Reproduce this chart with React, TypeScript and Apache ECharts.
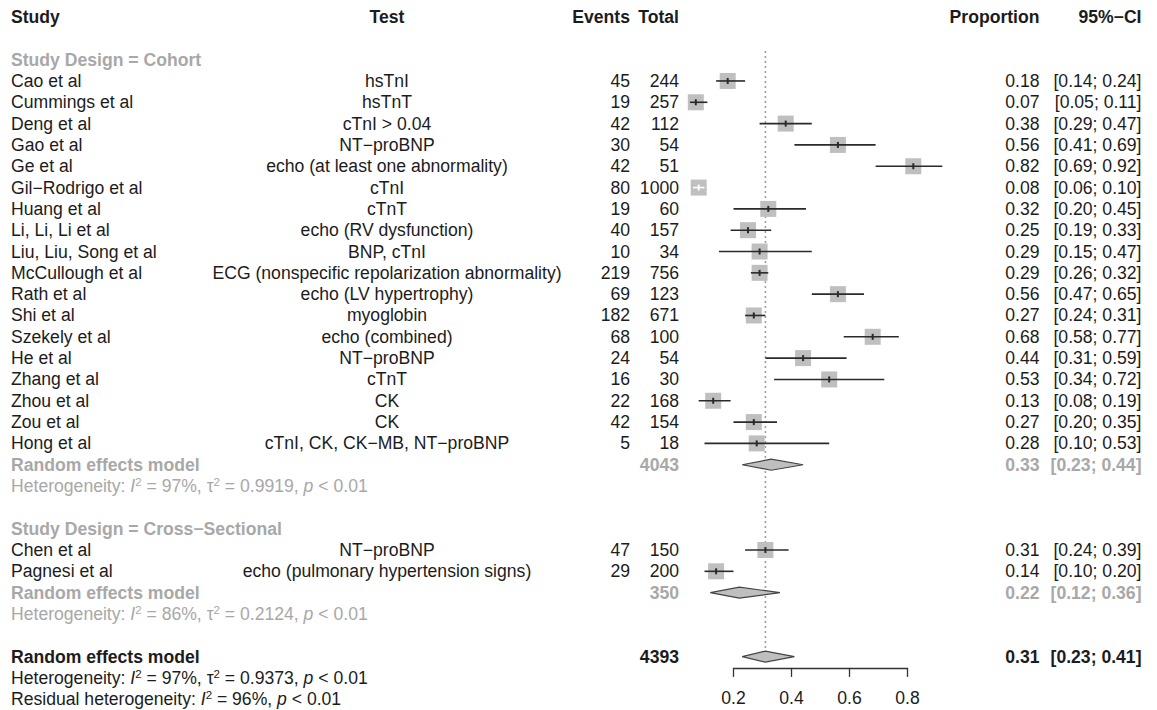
import React, { useEffect, useRef } from "react";
import * as echarts from "echarts";

// ---------------- data ----------------
const headers = ["Study", "Test", "Events", "Total", "Proportion", "95%−CI"];
const subgroupLabels = ["Study Design = Cohort", "Study Design = Cross−Sectional"];

const cohortStudies = [
  "Cao et al", "Cummings et al", "Deng et al", "Gao et al", "Ge et al", "Gil−Rodrigo et al",
  "Huang et al", "Li, Li, Li et al", "Liu, Liu, Song et al", "McCullough et al", "Rath et al",
  "Shi et al", "Szekely et al", "He et al", "Zhang et al", "Zhou et al", "Zou et al", "Hong et al",
];
const cohortTests = [
  "hsTnI", "hsTnT", "cTnI > 0.04", "NT−proBNP", "echo (at least one abnormality)", "cTnI",
  "cTnT", "echo (RV dysfunction)", "BNP, cTnI", "ECG (nonspecific repolarization abnormality)",
  "echo (LV hypertrophy)", "myoglobin", "echo (combined)", "NT−proBNP", "cTnT", "CK", "CK",
  "cTnI, CK, CK−MB, NT−proBNP",
];
const cohortEvents = [45, 19, 42, 30, 42, 80, 19, 40, 10, 219, 69, 182, 68, 24, 16, 22, 42, 5];
const cohortTotals = [244, 257, 112, 54, 51, 1000, 60, 157, 34, 756, 123, 671, 100, 54, 30, 168, 154, 18];
const cohortProp = [0.18, 0.07, 0.38, 0.56, 0.82, 0.08, 0.32, 0.25, 0.29, 0.29, 0.56, 0.27, 0.68, 0.44, 0.53, 0.13, 0.27, 0.28];
const cohortLower = [0.14, 0.05, 0.29, 0.41, 0.69, 0.06, 0.2, 0.19, 0.15, 0.26, 0.47, 0.24, 0.58, 0.31, 0.34, 0.08, 0.2, 0.1];
const cohortUpper = [0.24, 0.11, 0.47, 0.69, 0.92, 0.1, 0.45, 0.33, 0.47, 0.32, 0.65, 0.31, 0.77, 0.59, 0.72, 0.19, 0.35, 0.53];

const crossStudies = ["Chen et al", "Pagnesi et al"];
const crossTests = ["NT−proBNP", "echo (pulmonary hypertension signs)"];
const crossEvents = [47, 29];
const crossTotals = [150, 200];
const crossProp = [0.31, 0.14];
const crossLower = [0.24, 0.1];
const crossUpper = [0.39, 0.2];

// pooled: [cohort, cross-sectional, overall]
const pooledLabel = "Random effects model";
const pooledTotals = [4043, 350, 4393];
const pooledProp = [0.33, 0.22, 0.31];
const pooledLower = [0.23, 0.12, 0.23];
const pooledUpper = [0.44, 0.36, 0.41];
const pooledI2 = ["97%", "86%", "97%"];
const pooledTau2 = ["0.9919", "0.2124", "0.9373"];
const pooledP = ["0.01", "0.01", "0.01"];
const residualI2 = "96%";
const residualP = "0.01";

const xTicks = [0.2, 0.4, 0.6, 0.8];

// ---------------- layout ----------------
const W = 1157;
const H = 710;
const Y0 = 17; // centre of header row
const RH = 21.32; // row height
const NROWS = 32;
const AXIS_ROW = 30.53;
const PX_LEFT = 733.5; // pixel of first tick
const PX_RIGHT = 907.5; // pixel of last tick
const COL_STUDY = 11;
const COL_TEST = 387;
const COL_EVENTS = 630;
const COL_TOTAL = 679;
const COL_PROP = 1039.5;
const COL_CI = 1141.5;
const FS = 17.6;
const FONT = "'Liberation Sans', Arial, Helvetica, sans-serif";
const BLACK = "#1c1c1c";
const GRAY = "#a8a8a8";
const SQ = 16;

type Cell = {
  x: number;
  row: number;
  text: string;
  align: "left" | "center" | "right";
  color: string;
  bold?: boolean;
  rich?: any;
};

const fmt = (v: number) => v.toFixed(2);
const ciText = (l: number, h: number) => `[${fmt(l)}; ${fmt(h)}]`;

function richStyles(color: string) {
  const base = { fontSize: FS, fontFamily: FONT, fill: color, lineHeight: 20 };
  return {
    n: { ...base },
    i: { ...base, fontStyle: "italic" },
    s: { fontSize: 11.5, fontFamily: FONT, fill: color, lineHeight: 10, verticalAlign: "top" },
  };
}
const hetText = (i2: string, tau2: string, p: string) =>
  `{n|Heterogeneity: }{i|I}{s|2}{n| = ${i2}, τ}{s|2}{n| = ${tau2}, }{i|p}{n| < ${p}}`;
const residText = (i2: string, p: string) =>
  `{n|Residual heterogeneity: }{i|I}{s|2}{n| = ${i2}, }{i|p}{n| < ${p}}`;

const cells: Cell[] = [];
const studyMarks: number[][] = [];
const diamonds: number[][] = [];

// header
const headerX = [COL_STUDY, COL_TEST, COL_EVENTS, COL_TOTAL, COL_PROP, COL_CI];
const headerAlign: Cell["align"][] = ["left", "center", "right", "right", "right", "right"];
headers.forEach((h, i) =>
  cells.push({ x: headerX[i], row: 0, text: h, align: headerAlign[i], color: BLACK, bold: true })
);

const groups = [
  { studies: cohortStudies, tests: cohortTests, ev: cohortEvents, tot: cohortTotals, p: cohortProp, lo: cohortLower, hi: cohortUpper },
  { studies: crossStudies, tests: crossTests, ev: crossEvents, tot: crossTotals, p: crossProp, lo: crossLower, hi: crossUpper },
];

let row = 2;
groups.forEach((g, gi) => {
  cells.push({ x: COL_STUDY, row, text: subgroupLabels[gi], align: "left", color: GRAY, bold: true });
  row++;
  g.studies.forEach((s, i) => {
    cells.push({ x: COL_STUDY, row, text: s, align: "left", color: BLACK });
    cells.push({ x: COL_TEST, row, text: g.tests[i], align: "center", color: BLACK });
    cells.push({ x: COL_EVENTS, row, text: String(g.ev[i]), align: "right", color: BLACK });
    cells.push({ x: COL_TOTAL, row, text: String(g.tot[i]), align: "right", color: BLACK });
    cells.push({ x: COL_PROP, row, text: fmt(g.p[i]), align: "right", color: BLACK });
    cells.push({ x: COL_CI, row, text: ciText(g.lo[i], g.hi[i]), align: "right", color: BLACK });
    studyMarks.push([g.p[i], row, g.lo[i], g.hi[i]]);
    row++;
  });
  cells.push({ x: COL_STUDY, row, text: pooledLabel, align: "left", color: GRAY, bold: true });
  cells.push({ x: COL_TOTAL, row, text: String(pooledTotals[gi]), align: "right", color: GRAY, bold: true });
  cells.push({ x: COL_PROP, row, text: fmt(pooledProp[gi]), align: "right", color: GRAY, bold: true });
  cells.push({ x: COL_CI, row, text: ciText(pooledLower[gi], pooledUpper[gi]), align: "right", color: GRAY, bold: true });
  diamonds.push([pooledProp[gi], row, pooledLower[gi], pooledUpper[gi], 0]);
  row++;
  cells.push({ x: COL_STUDY, row, text: hetText(pooledI2[gi], pooledTau2[gi], pooledP[gi]), align: "left", color: GRAY, rich: richStyles(GRAY) });
  row += 2;
});
// overall
cells.push({ x: COL_STUDY, row, text: pooledLabel, align: "left", color: BLACK, bold: true });
cells.push({ x: COL_TOTAL, row, text: String(pooledTotals[2]), align: "right", color: BLACK, bold: true });
cells.push({ x: COL_PROP, row, text: fmt(pooledProp[2]), align: "right", color: BLACK, bold: true });
cells.push({ x: COL_CI, row, text: ciText(pooledLower[2], pooledUpper[2]), align: "right", color: BLACK, bold: true });
diamonds.push([pooledProp[2], row, pooledLower[2], pooledUpper[2], 1]);
const overallRow = row;
row++;
cells.push({ x: COL_STUDY, row, text: hetText(pooledI2[2], pooledTau2[2], pooledP[2]), align: "left", color: BLACK, rich: richStyles(BLACK) });
row++;
cells.push({ x: COL_STUDY, row, text: residText(residualI2, residualP), align: "left", color: BLACK, rich: richStyles(BLACK) });

const refLine = [[pooledProp[2], 1.6, overallRow]];

// ---------------- option ----------------
const option: any = {
  animation: false,
  backgroundColor: "#ffffff",
  grid: [
    { left: 0, top: Y0, width: W, height: NROWS * RH, containLabel: false, outerBoundsMode: "none", show: false },
    { left: PX_LEFT, top: Y0, width: PX_RIGHT - PX_LEFT, height: AXIS_ROW * RH, containLabel: false, outerBoundsMode: "none", show: false },
  ],
  xAxis: [
    { type: "value", gridIndex: 0, min: 0, max: W, show: false },
    {
      type: "value",
      gridIndex: 1,
      min: xTicks[0],
      max: xTicks[xTicks.length - 1],
      interval: 0.2,
      position: "bottom",
      axisLine: { show: true, onZero: false, lineStyle: { color: "#333", width: 1.3 } },
      axisTick: { show: true, length: 9, lineStyle: { color: "#333", width: 1.3 } },
      axisLabel: { show: true, margin: 21, fontSize: FS, fontFamily: FONT, color: BLACK, formatter: (v: number) => v.toFixed(1) },
      splitLine: { show: false },
    },
  ],
  yAxis: [
    { type: "value", gridIndex: 0, min: 0, max: NROWS, inverse: true, show: false },
    { type: "value", gridIndex: 1, min: 0, max: AXIS_ROW, inverse: true, show: false },
  ],
  series: [
    {
      type: "custom",
      name: "reference",
      xAxisIndex: 1,
      yAxisIndex: 1,
      silent: true,
      data: refLine,
      renderItem: (params: any, api: any) => {
        const a = api.coord([api.value(0), api.value(1)]);
        const b = api.coord([api.value(0), api.value(2)]);
        return {
          type: "line",
          shape: { x1: a[0], y1: a[1], x2: b[0], y2: b[1] },
          style: { stroke: "#a0a0a0", lineWidth: 1.6, lineDash: [2, 3] },
        };
      },
    },
    {
      type: "custom",
      name: "studies",
      xAxisIndex: 1,
      yAxisIndex: 1,
      silent: true,
      data: studyMarks,
      renderItem: (params: any, api: any) => {
        const r = api.value(1);
        const c = api.coord([api.value(0), r]);
        const l = api.coord([api.value(2), r]);
        const h = api.coord([api.value(3), r]);
        const inside = h[0] - l[0] <= SQ;
        const lc = inside ? "#ffffff" : "#2a2a2a";
        return {
          type: "group",
          children: [
            { type: "rect", shape: { x: c[0] - SQ / 2, y: c[1] - SQ / 2, width: SQ, height: SQ }, style: { fill: "#bfbfbf" } },
            { type: "line", shape: { x1: l[0], y1: c[1], x2: h[0], y2: c[1] }, style: { stroke: lc, lineWidth: 1.6 } },
            { type: "line", shape: { x1: c[0], y1: c[1] - 3, x2: c[0], y2: c[1] + 3 }, style: { stroke: lc, lineWidth: 2 } },
          ],
        };
      },
    },
    {
      type: "custom",
      name: "pooled",
      xAxisIndex: 1,
      yAxisIndex: 1,
      silent: true,
      data: diamonds,
      renderItem: (params: any, api: any) => {
        const r = api.value(1);
        const c = api.coord([api.value(0), r]);
        const l = api.coord([api.value(2), r]);
        const h = api.coord([api.value(3), r]);
        const hh = 5.5;
        return {
          type: "polygon",
          shape: { points: [[l[0], c[1]], [c[0], c[1] - hh], [h[0], c[1]], [c[0], c[1] + hh]] },
          style: { fill: "#bfbfbf", stroke: "#444", lineWidth: 1.2 },
        };
      },
    },
    {
      type: "custom",
      name: "table",
      xAxisIndex: 0,
      yAxisIndex: 0,
      silent: true,
      data: cells.map((c, i) => [c.x, c.row, i]),
      renderItem: (params: any, api: any) => {
        const cell = cells[api.value(2)];
        const p = api.coord([api.value(0), api.value(1)]);
        const style: any = {
          text: cell.text,
          fill: cell.color,
          fontSize: FS,
          fontFamily: FONT,
          fontWeight: cell.bold ? "bold" : "normal",
          align: cell.align,
          verticalAlign: "middle",
        };
        if (cell.rich) style.rich = cell.rich;
        return { type: "text", x: p[0], y: p[1], style };
      },
    },
  ],
};

export default function App() {
  const ref = useRef<HTMLDivElement>(null);
  useEffect(() => {
    document.body.style.margin = "0";
    const chart = echarts.init(ref.current as HTMLDivElement, null, { renderer: "svg", width: W, height: H });
    chart.setOption(option);
    return () => chart.dispose();
  }, []);
  return <div ref={ref} style={{ width: W, height: H, background: "#fff" }} />;
}
